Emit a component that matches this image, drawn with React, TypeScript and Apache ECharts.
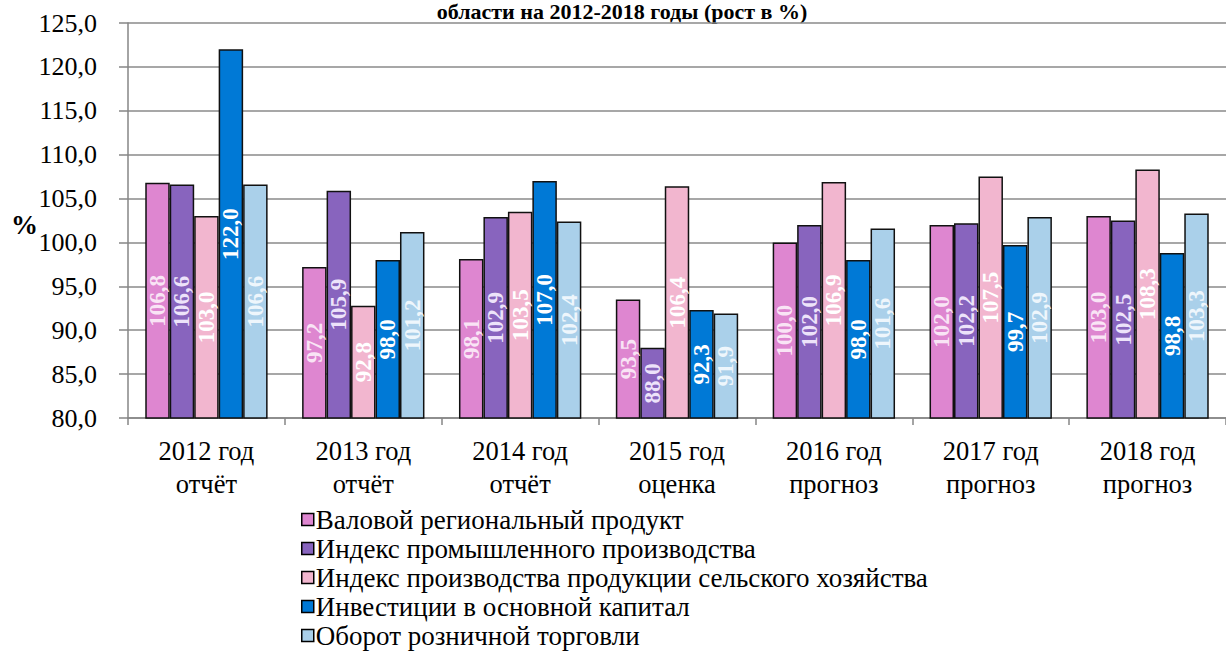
import React, { useEffect, useRef } from "react";
import * as echarts from "echarts";

const categories = [
  "2012 год\nотчёт",
  "2013 год\nотчёт",
  "2014 год\nотчёт",
  "2015 год\nоценка",
  "2016 год\nпрогноз",
  "2017 год\nпрогноз",
  "2018 год\nпрогноз",
];
const seriesNames = [
  "Валовой региональный продукт",
  "Индекс промышленного производства",
  "Индекс производства продукции сельского хозяйства",
  "Инвестиции в основной капитал",
  "Оборот розничной торговли",
];
const grp = [106.8, 97.2, 98.1, 93.5, 100.0, 102.0, 103.0];
const industry = [106.6, 105.9, 102.9, 88.0, 102.0, 102.2, 102.5];
const agriculture = [103.0, 92.8, 103.5, 106.4, 106.9, 107.5, 108.3];
const investment = [122.0, 98.0, 107.0, 92.3, 98.0, 99.7, 98.8];
const retail = [106.6, 101.2, 102.4, 91.9, 101.6, 102.9, 103.3];
const seriesValues = [grp, industry, agriculture, investment, retail];
const colors = ["#DE86D0", "#8864BE", "#F2B6CF", "#0079D6", "#AAD0EA"];
const labelColors = ["#F9E4F5", "#EDE3FA", "#FFFFFF", "#FFFFFF", "#EEF6FC"];
const titleText = "области на 2012-2018 годы (рост в %)";

const FONT = "Liberation Serif";
const fmt = (v: number) => v.toFixed(1).replace(".", ",");

export default function App() {
  const ref = useRef<HTMLDivElement>(null);
  useEffect(() => {
    if (!ref.current) return;
    const chart = echarts.init(ref.current, null, { renderer: "svg" });
    chart.setOption({
      animation: false,
      backgroundColor: "#ffffff",
      textStyle: { fontFamily: FONT },
      grid: { left: 128, right: -15, top: 23, bottom: 233, containLabel: false },
      graphic: [
        {
          type: "text",
          x: 622,
          y: 0,
          style: {
            text: titleText,
            fontFamily: FONT,
            fontSize: 22,
            fontWeight: "bold",
            fill: "#000",
            align: "center",
            verticalAlign: "top",
          },
        },
        {
          type: "text",
          x: 11,
          y: 211,
          style: { text: "%", fontFamily: FONT, fontSize: 27, fontWeight: "bold", fill: "#000" },
        },
      ],
      legend: {
        orient: "vertical",
        left: 301,
        top: 505,
        height: 146,
        padding: 0,
        itemWidth: 12,
        itemHeight: 12,
        itemGap: 0,
        icon: "rect",
        itemStyle: { borderColor: "#000", borderWidth: 1.5 },
        textStyle: { fontFamily: FONT, fontSize: 27, color: "#000", lineHeight: 29, padding: [0, 0, 0, -3] },
        data: seriesNames,
      },
      xAxis: {
        type: "category",
        data: categories,
        axisLine: { lineStyle: { color: "#868686", width: 1.5 } },
        axisTick: { show: true, length: 7, lineStyle: { color: "#868686", width: 1.5 } },
        axisLabel: { fontFamily: FONT, fontSize: 26.5, color: "#000", lineHeight: 32.5, margin: 17 },
      },
      yAxis: {
        type: "value",
        min: 80,
        max: 125,
        interval: 5,
        axisLine: { show: true, lineStyle: { color: "#868686", width: 1.5 } },
        axisTick: { show: true, length: 9, lineStyle: { color: "#868686", width: 1.5 } },
        splitLine: { lineStyle: { color: "#8a8a8a", width: 1.5 } },
        axisLabel: {
          fontFamily: FONT,
          fontSize: 26,
          color: "#000",
          margin: 31,
          formatter: (v: number) => fmt(v),
        },
      },
      series: seriesValues.map((vals, i) => ({
        name: seriesNames[i],
        type: "bar",
        data: vals,
        barGap: "0%",
        barCategoryGap: "22%",
        itemStyle: { color: colors[i], borderColor: "#111", borderWidth: 1.5 },
        label: {
          show: true,
          position: "inside",
          rotate: 90,
          fontFamily: FONT,
          fontSize: 23,
          fontWeight: "bold",
          color: labelColors[i],
          formatter: (p: any) => fmt(p.value),
        },
      })),
    });
    return () => chart.dispose();
  }, []);
  return (
    <div
      ref={ref}
      style={{ position: "fixed", left: 0, top: 0, width: 1226, height: 651, background: "#fff" }}
    />
  );
}
